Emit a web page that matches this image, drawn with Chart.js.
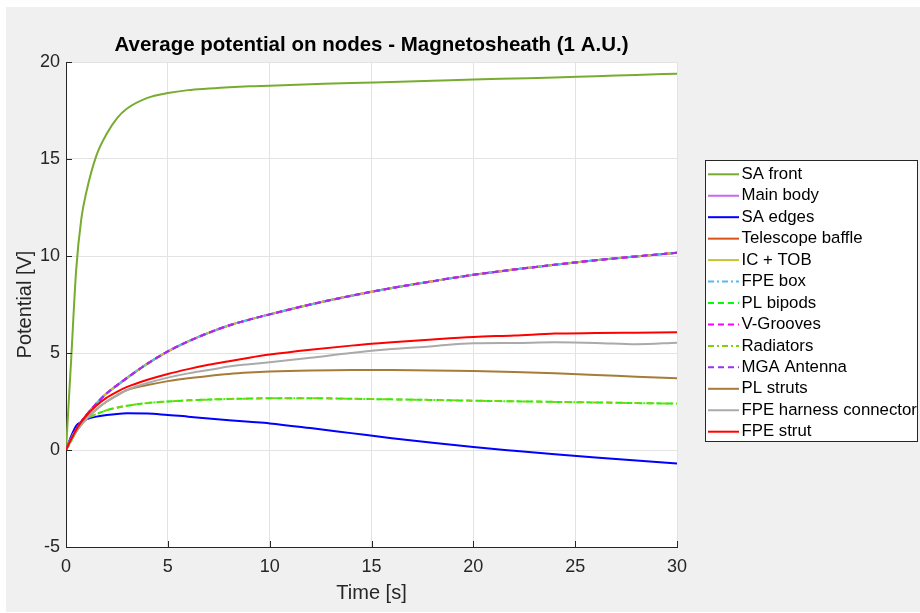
<!DOCTYPE html>
<html>
<head>
<meta charset="utf-8">
<script src="https://cdn.jsdelivr.net/npm/chart.js@4.4.0/dist/chart.umd.min.js"></script>
<style>
html,body{margin:0;padding:0;background:#ffffff;}
#wrap{width:920px;height:613px;position:relative;}
</style>
</head>
<body>
<div id="wrap"><canvas id="c" width="920" height="613"></canvas></div>
<script>
// ---------- data ----------
const chartTitle = 'Average potential on nodes - Magnetosheath (1 A.U.)';
const xAxisLabel = 'Time [s]';
const yAxisLabel = 'Potential [V]';
const xTicks = [0, 5, 10, 15, 20, 25, 30];
const yTicks = [-5, 0, 5, 10, 15, 20];

const time = [0, 0.25, 0.5, 0.75, 1, 1.5, 2, 2.5, 3, 4, 5, 6, 7, 8, 9, 10, 12, 14, 16, 18, 20, 22, 24, 26, 28, 30];

const seriesNames = ['SA front', 'Main body', 'SA edges', 'Telescope baffle', 'IC + TOB', 'FPE box',
  'PL bipods', 'V-Grooves', 'Radiators', 'MGA Antenna', 'PL struts', 'FPE harness connector', 'FPE strut'];

const saFront   = [0, 4.6, 9.3, 11.9, 13.3, 15.2, 16.3, 17.1, 17.6, 18.15, 18.4, 18.55, 18.63, 18.7, 18.75, 18.78, 18.85, 18.92, 18.97, 19.03, 19.1, 19.15, 19.2, 19.27, 19.33, 19.4];
const mainBody  = [0, 0.6, 1.05, 1.45, 1.8, 2.4, 2.92, 3.33, 3.72, 4.45, 5.08, 5.6, 6.04, 6.42, 6.72, 6.99, 7.5, 7.95, 8.35, 8.7, 9.03, 9.3, 9.55, 9.78, 9.98, 10.17];
const saEdges   = [0, 0.7, 1.25, 1.45, 1.58, 1.72, 1.8, 1.86, 1.89, 1.88, 1.8, 1.72, 1.62, 1.53, 1.45, 1.37, 1.13, 0.87, 0.61, 0.37, 0.15, -0.04, -0.22, -0.39, -0.54, -0.69];
const telBaffle = mainBody.slice();
const icTob     = mainBody.slice();
const fpeBox    = mainBody.slice();
const plBipods  = [0, 0.45, 0.95, 1.35, 1.6, 1.85, 2.05, 2.18, 2.28, 2.42, 2.5, 2.56, 2.6, 2.63, 2.65, 2.67, 2.67, 2.64, 2.61, 2.58, 2.54, 2.51, 2.48, 2.45, 2.42, 2.39];
const vGrooves  = mainBody.slice();
const radiators = plBipods.slice();
const mgaAntenna = mainBody.slice();
const plStruts  = [0, 0.5, 0.95, 1.3, 1.6, 2.1, 2.5, 2.82, 3.09, 3.35, 3.55, 3.7, 3.82, 3.92, 3.99, 4.04, 4.1, 4.13, 4.12, 4.1, 4.07, 4.02, 3.95, 3.87, 3.78, 3.7];
const fpeHarness = [0, 0.5, 0.95, 1.3, 1.6, 2.1, 2.5, 2.8, 3.1, 3.45, 3.73, 3.95, 4.12, 4.3, 4.42, 4.52, 4.75, 5.0, 5.2, 5.35, 5.5, 5.52, 5.55, 5.52, 5.45, 5.53];
const fpeStrut  = [0, 0.55, 1.05, 1.45, 1.78, 2.3, 2.7, 3.0, 3.25, 3.62, 3.92, 4.17, 4.39, 4.58, 4.76, 4.92, 5.17, 5.38, 5.55, 5.7, 5.83, 5.9, 6.0, 6.03, 6.05, 6.07];

const seriesValues = [saFront, mainBody, saEdges, telBaffle, icTob, fpeBox, plBipods, vGrooves, radiators, mgaAntenna, plStruts, fpeHarness, fpeStrut];

// ---------- styles ----------
const DASH = [6, 4];
const DASHDOT = [6, 3, 2, 3];
const seriesStyles = [
  {color: '#77AC30', dash: []},
  {color: '#CC66EE', dash: []},
  {color: '#0000FF', dash: []},
  {color: '#D95319', dash: []},
  {color: '#C8C238', dash: []},
  {color: '#4DBEEE', dash: DASHDOT},
  {color: '#00FF00', dash: DASH},
  {color: '#FF00FF', dash: DASH},
  {color: '#80D010', dash: DASHDOT},
  {color: '#A030F0', dash: DASH},
  {color: '#A67C38', dash: []},
  {color: '#AAAAAA', dash: []},
  {color: '#FF0000', dash: []}
];

const FONT = '"Liberation Sans", Arial, Helvetica, sans-serif';
Chart.defaults.font.family = FONT;

const datasets = seriesNames.map((name, i) => ({
  label: name,
  data: time.map((t, k) => ({x: t, y: seriesValues[i][k]})),
  borderColor: seriesStyles[i].color,
  backgroundColor: seriesStyles[i].color,
  borderDash: seriesStyles[i].dash,
  borderWidth: 2,
  pointRadius: 0,
  fill: false,
  cubicInterpolationMode: 'monotone',
  order: seriesNames.length - i
}));

// ---------- plugins ----------
const bgPlugin = {
  id: 'bg',
  beforeDraw(chart) {
    const {ctx, chartArea} = chart;
    ctx.save();
    ctx.fillStyle = '#ffffff';
    ctx.fillRect(0, 0, chart.width, chart.height);
    ctx.fillStyle = '#f0f0f0';
    ctx.fillRect(6, 7, chart.width - 6, 605);
    ctx.fillStyle = '#ffffff';
    ctx.fillRect(chartArea.left, chartArea.top, chartArea.right - chartArea.left, chartArea.bottom - chartArea.top);
    ctx.restore();
  }
};

const tickPlugin = {
  id: 'inwardTicks',
  afterDatasetsDraw(chart) {
    const {ctx, chartArea, scales} = chart;
    ctx.save();
    ctx.strokeStyle = '#262626';
    ctx.lineWidth = 1;
    ctx.beginPath();
    xTicks.forEach(v => {
      const px = Math.round(scales.x.getPixelForValue(v)) + 0.5;
      ctx.moveTo(px, chartArea.bottom);
      ctx.lineTo(px, chartArea.bottom - 6);
    });
    yTicks.forEach(v => {
      const py = Math.round(scales.y.getPixelForValue(v)) + 0.5;
      ctx.moveTo(chartArea.left, py);
      ctx.lineTo(chartArea.left + 6, py);
    });
    ctx.stroke();
    ctx.restore();
  }
};

const legendPlugin = {
  id: 'boxLegend',
  afterDraw(chart) {
    const ctx = chart.ctx;
    const x0 = 705.5, y0 = 160.5, w = 212, h = 281;
    ctx.save();
    ctx.fillStyle = '#ffffff';
    ctx.fillRect(x0, y0, w, h);
    ctx.strokeStyle = '#262626';
    ctx.lineWidth = 1;
    ctx.setLineDash([]);
    ctx.strokeRect(x0, y0, w, h);
    ctx.font = '16.8px ' + FONT;
    ctx.textBaseline = 'middle';
    ctx.textAlign = 'left';
    chart.data.datasets.forEach((ds, i) => {
      const y = 174.3 + i * 21.45;
      ctx.beginPath();
      ctx.strokeStyle = ds.borderColor;
      ctx.lineWidth = ds.borderWidth;
      ctx.setLineDash(ds.borderDash || []);
      ctx.moveTo(708, y);
      ctx.lineTo(739, y);
      ctx.stroke();
      ctx.setLineDash([]);
      ctx.fillStyle = '#000000';
      ctx.fillText(ds.label, 741.5, y);
    });
    ctx.restore();
  }
};

new Chart(document.getElementById('c'), {
  type: 'line',
  data: {datasets},
  options: {
    responsive: false,
    animation: false,
    devicePixelRatio: 1,
    layout: {padding: {left: 0, right: 243, top: 0, bottom: 0}},
    plugins: {
      legend: {display: false},
      tooltip: {enabled: false},
      title: {
        display: true,
        text: chartTitle,
        fullSize: false,
        color: '#000000',
        font: {size: 20.5, weight: 'bold', family: FONT},
        padding: {top: 33, bottom: 4.4}
      }
    },
    scales: {
      x: {
        type: 'linear',
        min: 0, max: 30,
        afterBuildTicks(scale) { scale.ticks = xTicks.map(v => ({value: v})); },
        afterFit(scale) { scale.height = 66; },
        ticks: {color: '#262626', font: {size: 18}, padding: 9, maxRotation: 0, autoSkip: false},
        grid: {color: '#e3e3e3', drawTicks: false, lineWidth: 1},
        border: {display: true, color: '#262626', width: 1},
        title: {display: true, text: xAxisLabel, color: '#262626', font: {size: 20}, padding: {top: 0, bottom: 8}}
      },
      y: {
        type: 'linear',
        min: -5, max: 20,
        afterBuildTicks(scale) { scale.ticks = yTicks.map(v => ({value: v})); },
        afterFit(scale) { scale.width = 66; },
        ticks: {color: '#262626', font: {size: 18}, padding: 6, autoSkip: false},
        grid: {color: '#e3e3e3', drawTicks: false, lineWidth: 1},
        border: {display: true, color: '#262626', width: 1},
        title: {display: true, text: yAxisLabel, color: '#262626', font: {size: 20}, padding: {top: 13, bottom: 0}}
      }
    }
  },
  plugins: [bgPlugin, tickPlugin, legendPlugin]
});
</script>
</body>
</html>
